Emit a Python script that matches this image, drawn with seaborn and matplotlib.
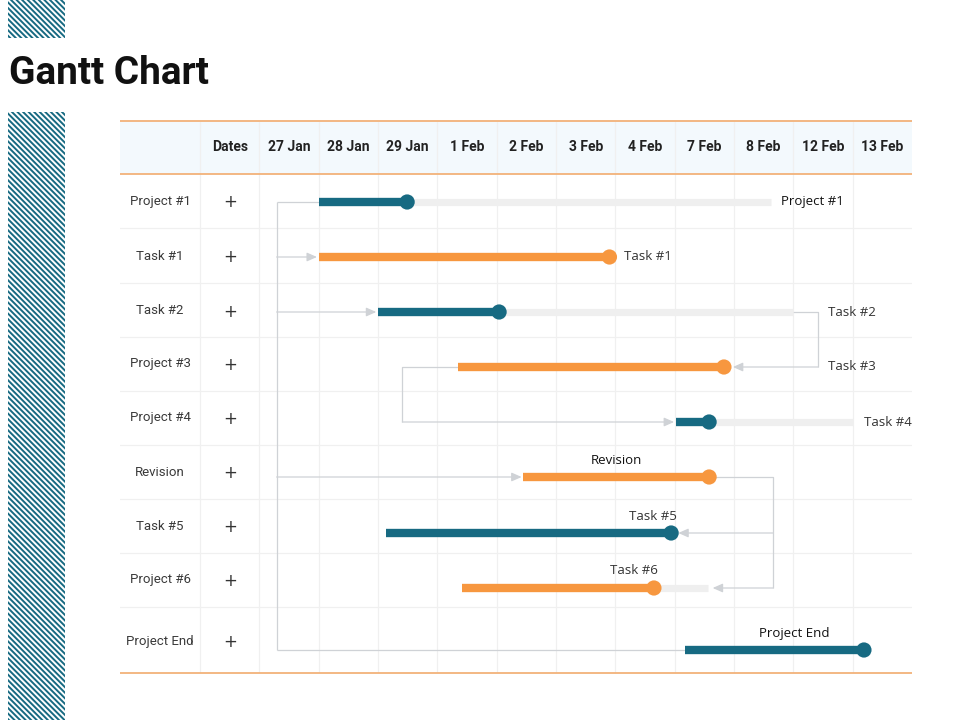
import matplotlib
matplotlib.use("Agg")
import matplotlib.pyplot as plt
import matplotlib.patches as mpatches
import seaborn as sns
import pandas as pd

# ---------------- data ----------------
date_labels = ["27 Jan", "28 Jan", "29 Jan", "1 Feb", "2 Feb", "3 Feb",
               "4 Feb", "7 Feb", "8 Feb", "12 Feb", "13 Feb"]
row_labels = ["Project #1", "Task #1", "Task #2", "Project #3", "Project #4",
              "Revision", "Task #5", "Project #6", "Project End"]
bar_labels = ["Project #1", "Task #1", "Task #2", "Task #3", "Task #4",
              "Revision", "Task #5", "Task #6", "Project End"]
# positions in date-column units (0 = start of 27 Jan column)
bar_start = [1.00, 1.00, 2.00, 3.35, 7.02, 4.45, 2.14, 3.42, 7.18]
bar_done = [2.49, 5.90, 4.04, 7.83, 7.58, 7.58, 6.94, 6.65, 10.19]
bar_track = [8.63, 5.90, 9.00, 7.83, 10.00, 7.58, 6.94, 7.56, 10.19]
bar_kind = ["teal", "orange", "teal", "orange", "teal", "orange", "teal", "orange", "teal"]
# label anchor (date-column units) and placement
label_x = [8.80, 6.15, 9.59, 9.59, 10.19, 6.02, 6.63, 6.31, 9.01]
label_place = ["right", "right", "right", "right", "right", "above", "above", "above", "above"]

# ---------------- style ----------------
sns.set_theme(style="white")
COND = ["Liberation Sans Narrow", "Roboto", "DejaVu Sans"]
SANS = ["Open Sans", "DejaVu Sans"]
plt.rcParams["font.family"] = SANS
TEAL = "#176a82"
ORANGE = "#f7973f"
TRACK = "#efefef"
CONN = "#cfd2d6"
GRID = "#f0f0f0"
HEADER_LINE = "#f2b27a"
palette = {"teal": TEAL, "orange": ORANGE}

W, H = 960, 720
fig = plt.figure(figsize=(9.6, 7.2), dpi=100)

# background / decoration axes in pixel units
bg = fig.add_axes([0, 0, 1, 1])
bg.set_xlim(0, W)
bg.set_ylim(H, 0)
bg.axis("off")
plt.rcParams["hatch.linewidth"] = 1.4
for (y0, y1) in [(0, 38), (112, 720)]:
    bg.add_patch(mpatches.Rectangle((8, y0), 57, y1 - y0, facecolor="white",
                                    edgecolor=TEAL, hatch="\\\\\\\\\\\\", lw=0))
bg.text(9, 73, "Gantt Chart", fontsize=28, fontweight="bold",
        family=COND, va="center", ha="left", color="#111111")

# ---------------- table axes ----------------
tx0, tx1, ty0, ty1 = 120, 912, 120, 674
ax = fig.add_axes([tx0 / W, 1 - ty1 / H, (tx1 - tx0) / W, (ty1 - ty0) / H])
ax.set_xlim(-2.35, len(date_labels))
ax.set_ylim(ty1, ty0)
ax.axis("off")

header_bottom = 174
row_edges = [174, 228, 283, 337, 391, 445, 499, 553, 607, 674]
row_y = [201, 256, 311, 364, 418, 472, 526, 580, 641]
bar_y = [202, 257, 312, 367, 422, 477, 533, 588, 650]

# header band
ax.axhspan(ty0, header_bottom, xmin=0, xmax=1, color="#f3f9fd", lw=0, zorder=0)
for yy in (ty0 + 1, header_bottom):
    ax.axhline(yy, color=HEADER_LINE, lw=1.3, zorder=3)
ax.axhline(ty1 - 1, color=HEADER_LINE, lw=1.3, zorder=3)

# grid
col_edges = [-1] + list(range(0, len(date_labels)))
for xe in col_edges:
    ax.plot([xe, xe], [ty0 + 2, ty1 - 2], color=GRID, lw=0.9, zorder=1)
for ye in row_edges[1:-1]:
    ax.plot([-2.35, len(date_labels)], [ye, ye], color=GRID, lw=0.9, zorder=1)

# header text
ax.text(-0.5, 147, "Dates", family=COND, fontsize=10, fontweight="bold",
        ha="center", va="center", color="#222222")
for i, d in enumerate(date_labels):
    ax.text(i + 0.5, 147, d, family=COND, fontsize=10, fontweight="bold",
            ha="center", va="center", color="#222222")
for lab, yy in zip(row_labels, row_y):
    ax.text(-1.675, yy, lab, family=COND, fontsize=9.5, ha="center", va="center",
            color="#3a3a3a")
    ax.text(-0.5, yy + 1, "+", fontsize=12, ha="center", va="center",
            color="#333333", family=["DejaVu Sans"])

# ---------------- connectors ----------------
spine_x = 0.29
arrow_kw = dict(arrowstyle="-|>,head_length=0.5,head_width=0.22", color=CONN, lw=0.9,
                shrinkA=0, shrinkB=0)


def arrow(x0, y0, x1, y1):
    ax.annotate("", xy=(x1, y1), xytext=(x0, y0), arrowprops=arrow_kw, zorder=2)


def line(xs, ys):
    ax.plot(xs, ys, color=CONN, lw=0.9, zorder=2, solid_capstyle="butt")


line([spine_x, spine_x], [bar_y[0], bar_y[8]])
line([spine_x, bar_start[0]], [bar_y[0], bar_y[0]])
arrow(spine_x, bar_y[1], bar_start[1] - 0.03, bar_y[1])
arrow(spine_x, bar_y[2], bar_start[2] - 0.03, bar_y[2])
arrow(spine_x, bar_y[5], bar_start[5] - 0.03, bar_y[5])
line([spine_x, bar_start[8]], [bar_y[8], bar_y[8]])
# Task #2 -> Task #3
elbow2 = 9.42
line([bar_track[2], elbow2, elbow2], [bar_y[2], bar_y[2], bar_y[3]])
arrow(elbow2, bar_y[3], bar_done[3] + 0.15, bar_y[3])
# Task #3 -> Task #4
elbow3 = 2.41
line([bar_start[3], elbow3, elbow3], [bar_y[3], bar_y[3], bar_y[4]])
arrow(elbow3, bar_y[4], bar_start[4] - 0.03, bar_y[4])
# Revision -> Task #5 / Task #6
elbow5 = 8.66
line([bar_done[5], elbow5, elbow5], [bar_y[5], bar_y[5], bar_y[7]])
arrow(elbow5, bar_y[6], bar_done[6] + 0.12, bar_y[6])
arrow(elbow5, bar_y[7], bar_track[7] + 0.08, bar_y[7])

# ---------------- bars ----------------
df = pd.DataFrame({"label": bar_labels, "start": bar_start, "done": bar_done,
                   "track": bar_track, "kind": bar_kind, "y": bar_y,
                   "lx": label_x, "place": label_place})
ax.hlines(df["y"], df["done"], df["track"], color=TRACK, lw=5.2, zorder=3)
ax.hlines(df["y"], df["start"], df["done"], colors=[palette[k] for k in df["kind"]],
          lw=6.0, zorder=4)
sns.scatterplot(data=df, x="done", y="y", hue="kind", palette=palette, s=120,
                edgecolor="none", legend=False, zorder=5, ax=ax)
ax.set_xlim(-2.35, len(date_labels))
ax.set_ylim(ty1, ty0)
ax.axis("off")

dark_labels = {"Project #1", "Revision", "Project End"}
for i, r in df.iterrows():
    col = "#111111" if r["label"] in dark_labels else "#333333"
    if r["place"] == "right":
        ax.text(r["lx"], r["y"], r["label"], fontsize=9.5, ha="left", va="center",
                color=col)
    else:
        ax.text(r["lx"], r["y"] - 17, r["label"], fontsize=9.5, ha="center",
                va="center", color=col)

fig.savefig("out.png", dpi=100)
